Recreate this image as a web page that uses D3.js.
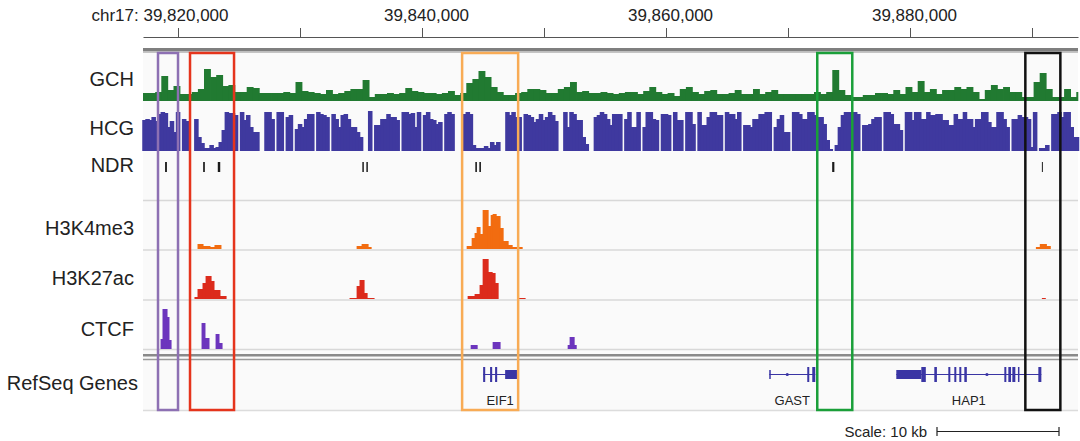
<!DOCTYPE html>
<html>
<head>
<meta charset="utf-8">
<script src="https://cdn.jsdelivr.net/npm/d3@7"></script>
<style>
body { margin: 0; background: #ffffff; }
svg { display: block; font-family: "Liberation Sans", Arial, sans-serif; }
</style>
</head>
<body>
<div id="canvas"></div>
<script>
"use strict"

// region on chr17 that is shown
let regionStart = 39817130;
let regionEnd = 39893770;

let tickPositions = [39820000, 39830000, 39840000, 39850000, 39860000, 39870000, 39880000, 39890000];
let labelledTicks = [39820000, 39840000, 39860000, 39880000];

let trackNames = ["GCH", "HCG", "NDR", "H3K4me3", "H3K27ac", "CTCF", "RefSeq Genes"];

// GCH signal, 500 bp bins from regionStart
let gchBinSize = 500;
let gchValues = [
    8, 8, 9, 25, 11, 15, 7, 7, 9, 12,
    32, 24, 26, 15, 16, 9, 9, 14, 13, 8,
    8, 8, 8, 9, 8, 19, 10, 9, 8, 7,
    11, 7, 8, 10, 12, 12, 21, 4, 7, 7,
    8, 7, 8, 13, 10, 9, 8, 8, 7, 8,
    10, 6, 8, 18, 22, 30, 24, 14, 9, 6,
    6, 8, 9, 12, 12, 11, 8, 8, 12, 14,
    19, 9, 10, 8, 8, 9, 8, 7, 8, 9,
    9, 7, 10, 14, 9, 7, 8, 5, 12, 14,
    9, 7, 10, 11, 7, 7, 8, 11, 7, 7,
    12, 7, 9, 11, 7, 7, 7, 7, 7, 7,
    9, 7, 9, 31, 11, 6, 4, 4, 6, 6,
    8, 8, 7, 11, 7, 14, 9, 20, 9, 12,
    7, 11, 11, 14, 12, 14, 9, 2, 11, 16,
    12, 14, 9, 9, 4, 4, 19, 28, 12, 4,
    4, 12, 4, 9
];

// HCG signal, 250 bp bins from regionStart (0 = no data)
let hcgBinSize = 250;
let hcgValues = [
    31, 32, 31, 34, 30, 37, 39, 38, 24, 30,
    19, 39, 0, 32, 30, 0, 0, 32, 14, 8,
    3, 3, 6, 3, 4, 9, 21, 39, 38, 38,
    36, 0, 39, 31, 36, 24, 19, 19, 0, 0,
    39, 39, 32, 0, 39, 39, 0, 34, 36, 0,
    22, 27, 24, 32, 37, 37, 0, 39, 37, 36,
    34, 0, 37, 32, 24, 36, 37, 32, 24, 24,
    19, 14, 0, 0, 40, 0, 26, 26, 32, 32,
    37, 34, 34, 31, 0, 39, 39, 37, 38, 24,
    39, 0, 36, 39, 32, 31, 27, 29, 0, 37,
    39, 37, 0, 0, 0, 37, 39, 37, 6, 3,
    3, 3, 5, 3, 9, 6, 9, 0, 0, 39,
    36, 39, 34, 34, 0, 37, 36, 34, 29, 32,
    37, 31, 34, 39, 36, 30, 0, 0, 39, 24,
    39, 37, 31, 31, 14, 7, 0, 0, 34, 36,
    39, 37, 32, 26, 37, 37, 37, 0, 32, 39,
    24, 24, 39, 0, 24, 39, 39, 32, 31, 0,
    37, 37, 36, 0, 39, 31, 31, 0, 39, 39,
    27, 0, 39, 26, 26, 34, 39, 39, 36, 36,
    0, 39, 37, 37, 32, 39, 0, 26, 26, 24,
    32, 32, 37, 37, 39, 39, 0, 24, 32, 36,
    19, 19, 0, 39, 39, 37, 32, 32, 39, 39,
    36, 34, 34, 27, 11, 2, 0, 6, 24, 36,
    39, 39, 39, 39, 37, 0, 26, 26, 27, 32,
    34, 34, 0, 39, 39, 37, 27, 27, 21, 0,
    39, 39, 31, 39, 39, 32, 32, 39, 36, 36,
    37, 37, 31, 31, 26, 26, 37, 32, 32, 39,
    32, 32, 24, 32, 32, 39, 39, 29, 24, 24,
    39, 39, 32, 24, 0, 32, 32, 36, 34, 34,
    32, 4, 39, 0, 3, 3, 6, 0, 37, 37,
    39, 34, 39, 39, 24, 14, 14
];

// nucleosome depleted regions [start, end]
let ndrRegions = [
    [39818940, 39819090],
    [39822060, 39822200],
    [39823260, 39823460],
    [39835110, 39835230],
    [39835440, 39835560],
    [39844370, 39844500],
    [39844700, 39844830],
    [39873620, 39873800],
    [39890810, 39890890]
];

// peak tracks [start, end, value]
let h3k4me3Peaks = [
    [39821640, 39822050, 5], [39822050, 39822620, 3], [39822620, 39823030, 2], [39823030, 39823520, 4],
    [39834680, 39835090, 3], [39835090, 39835580, 5], [39835580, 39835830, 2],
    [39843700, 39844110, 3], [39844110, 39844350, 11], [39844350, 39844520, 16], [39844520, 39844760, 22],
    [39844760, 39845010, 15], [39845010, 39845420, 39], [39845420, 39845670, 23], [39845670, 39845830, 34],
    [39845830, 39846080, 35], [39846080, 39846400, 33], [39846400, 39846650, 21], [39846650, 39847060, 8],
    [39847060, 39847390, 4], [39847390, 39848210, 2],
    [39890360, 39890680, 2], [39890680, 39891180, 5], [39891180, 39891500, 3]
];
let h3k27acPeaks = [
    [39821390, 39821640, 2], [39821640, 39822050, 10], [39822050, 39822300, 16], [39822300, 39822710, 23],
    [39822710, 39822950, 18], [39822950, 39823440, 9], [39823440, 39823940, 3],
    [39834100, 39834680, 1], [39834680, 39834920, 13], [39834920, 39835250, 19], [39835250, 39835500, 6],
    [39835500, 39836070, 1],
    [39843780, 39844350, 3], [39844350, 39844760, 5], [39844760, 39845010, 14], [39845010, 39845420, 40],
    [39845420, 39845750, 27], [39845750, 39845990, 26], [39845990, 39846240, 16],
    [39847880, 39848450, 1],
    [39890850, 39891090, 1]
];
let ctcfPeaks = [
    [39818610, 39818770, 10], [39818770, 39819100, 40], [39819100, 39819260, 32], [39819260, 39819430, 9],
    [39821970, 39822210, 26], [39822210, 39822540, 11], [39823120, 39823360, 15], [39823360, 39823610, 6],
    [39844030, 39844520, 4], [39845830, 39846400, 7],
    [39851980, 39852140, 4], [39852140, 39852470, 12], [39852470, 39852640, 4]
];

// RefSeq genes
let geneNames = ["EIF1", "GAST", "HAP1"];
let geneStarts = [39845010, 39868462, 39878876];
let geneEnds = [39847798, 39872234, 39890766];
let geneExons = [
    [[39845010, 39845180, "cds"], [39845580, 39845750, "cds"], [39845990, 39846160, "cds"], [39846814, 39847798, "utr"]],
    [[39868462, 39868580, "utr"], [39871578, 39871742, "cds"], [39871988, 39872234, "cds"]],
    [[39878876, 39880926, "utr"], [39880926, 39881295, "cds"], [39881992, 39882205, "cds"], [39883140, 39883304, "cds"],
     [39883632, 39883796, "cds"], [39884042, 39884206, "cds"], [39884452, 39884657, "cds"], [39887732, 39887896, "cds"],
     [39888060, 39888281, "cds"], [39888388, 39888634, "cds"], [39888847, 39888962, "cds"], [39890520, 39890766, "cds"]]
];
let geneMarks = [[], [39869938], [39886305]];

// highlighted regions
let boxStarts = [39818360, 39820984, 39843288, 39872398, 39889454];
let boxEnds = [39820000, 39824592, 39847880, 39875268, 39892324];
let boxColours = ["#8d70b3", "#e5341c", "#f8ab55", "#1a9f39", "#111111"];

let scaleBarLength = 10000;

let width = 1080;
let height = 441;

let svg = d3.select("#canvas")
    .append("svg")
    .attr("width", width)
    .attr("height", height);

let x = d3.scaleLinear()
    .domain([regionStart, regionEnd])
    .range([143, 1078]);

// data area background
svg.append("rect")
    .attr("x", 143)
    .attr("y", 53)
    .attr("width", 935)
    .attr("height", 358)
    .attr("fill", "#fafafa");

/* ruler */
let axis = d3.axisTop(x)
    .tickValues(tickPositions)
    .tickSize(9)
    .tickSizeOuter(0)
    .tickPadding(7)
    .tickFormat(d => labelledTicks.includes(d) ? d3.format(",")(d) : "");

let axisG = svg.append("g")
    .attr("transform", "translate(0,37)")
    .call(axis)
    .attr("font-family", null)
    .attr("font-size", 17);
axisG.select(".domain").attr("stroke", "#555");
axisG.selectAll(".tick line").attr("stroke", "#555");
axisG.selectAll(".tick text")
    .attr("fill", "#222")
    .attr("dx", 4);
axisG.selectAll(".tick text")
    .filter(d => d === labelledTicks[0])
    .text(d => "chr17: " + d3.format(",")(d))
    .attr("text-anchor", "end")
    .attr("dx", 50);

svg.append("rect")
    .attr("x", 143).attr("y", 48)
    .attr("width", 935).attr("height", 3.5)
    .attr("fill", "#7f7f7f");
svg.append("line")
    .attr("x1", 143).attr("x2", 1078)
    .attr("y1", 52.5).attr("y2", 52.5)
    .attr("stroke", "#c4c4c4");

/* separators */
[200.5, 250, 300, 349.5].forEach(yy => {
    svg.append("line")
        .attr("x1", 143).attr("x2", 1078)
        .attr("y1", yy).attr("y2", yy)
        .attr("stroke", "#d8d8d8")
        .attr("stroke-width", 1.5);
});
svg.append("rect")
    .attr("x", 143).attr("y", 354)
    .attr("width", 935).attr("height", 2.5)
    .attr("fill", "#8a8a8a");
svg.append("line")
    .attr("x1", 143).attr("x2", 1078)
    .attr("y1", 359.5).attr("y2", 359.5)
    .attr("stroke", "#9a9a9a")
    .attr("stroke-width", 1.5);
svg.append("line")
    .attr("x1", 143).attr("x2", 1078)
    .attr("y1", 410.5).attr("y2", 410.5)
    .attr("stroke", "#dcdcdc")
    .attr("stroke-width", 1.5);

/* GCH track */
let gchY = d3.scaleLinear().domain([0, 48]).range([101, 53]);
svg.append("g")
    .selectAll("rect")
    .data(gchValues)
    .join("rect")
    .attr("x", (d, i) => x(regionStart + i * gchBinSize))
    .attr("width", (d, i) => Math.min(x(regionStart + (i + 1) * gchBinSize), 1077.5) - x(regionStart + i * gchBinSize) + 0.8)
    .attr("y", d => gchY(d))
    .attr("height", d => gchY(0) - gchY(d))
    .attr("fill", "#217a31");

/* HCG track */
let hcgY = d3.scaleLinear().domain([0, 40]).range([151, 111]);
svg.append("g")
    .selectAll("rect")
    .data(hcgValues.map((v, i) => ({v: v, i: i})).filter(d => d.v > 0))
    .join("rect")
    .attr("x", d => x(regionStart + d.i * hcgBinSize) - 0.75)
    .attr("width", d => Math.min(x(regionStart + (d.i + 1) * hcgBinSize), 1078.5) - x(regionStart + d.i * hcgBinSize) + 1.5)
    .attr("y", d => hcgY(d.v))
    .attr("height", d => hcgY(0) - hcgY(d.v))
    .attr("fill", "#3f399f");

/* NDR marks */
svg.append("g")
    .selectAll("rect")
    .data(ndrRegions)
    .join("rect")
    .attr("x", d => x(d[0]))
    .attr("width", d => x(d[1]) - x(d[0]))
    .attr("y", 162)
    .attr("height", 10)
    .attr("fill", "#1a1a1a");

/* ChIP tracks */
function peakTrack(peaks, baseline, colour) {
    let y = d3.scaleLinear().domain([0, 48]).range([baseline, baseline - 48]);
    svg.append("g")
        .selectAll("rect")
        .data(peaks)
        .join("rect")
        .attr("x", d => x(d[0]) - 0.5)
        .attr("width", d => x(d[1]) - x(d[0]) + 1)
        .attr("y", d => y(d[2]))
        .attr("height", d => y(0) - y(d[2]))
        .attr("fill", colour);
}
peakTrack(h3k4me3Peaks, 249, "#f26c10");
peakTrack(h3k27acPeaks, 299, "#dc2b1c");
peakTrack(ctcfPeaks, 349, "#6c35bd");

/* genes */
let geneColour = "#3a35a4";
let genes = svg.append("g");
geneNames.forEach((name, gi) => {
    genes.append("line")
        .attr("x1", x(geneStarts[gi]))
        .attr("x2", x(geneEnds[gi]))
        .attr("y1", 374.5).attr("y2", 374.5)
        .attr("stroke", geneColour)
        .attr("stroke-width", 1.2);
    genes.selectAll(null)
        .data(geneExons[gi])
        .join("rect")
        .attr("x", d => x(d[0]))
        .attr("width", d => Math.max(x(d[1]) - x(d[0]), 1.5))
        .attr("y", d => d[2] === "cds" ? 367 : 370)
        .attr("height", d => d[2] === "cds" ? 15 : 9)
        .attr("fill", geneColour);
    genes.selectAll(null)
        .data(geneMarks[gi])
        .join("circle")
        .attr("cx", d => x(d))
        .attr("cy", 374.5)
        .attr("r", 1.6)
        .attr("fill", geneColour);
    genes.append("text")
        .attr("x", x((geneStarts[gi] + geneEnds[gi]) / 2))
        .attr("y", 405)
        .attr("text-anchor", "middle")
        .attr("font-size", 13)
        .attr("fill", "#222")
        .text(name);
});

/* track labels */
let labelBaselines = [86, 135, 172, 235, 285, 336, 390];
svg.append("g")
    .selectAll("text")
    .data(trackNames)
    .join("text")
    .attr("x", (d, i) => i === 6 ? 138 : 134)
    .attr("y", (d, i) => labelBaselines[i])
    .attr("text-anchor", "end")
    .attr("font-size", 20)
    .attr("fill", "#222")
    .text(d => d);

/* highlight boxes */
svg.append("g")
    .selectAll("rect")
    .data(boxStarts)
    .join("rect")
    .attr("x", d => x(d))
    .attr("y", 53)
    .attr("width", (d, i) => x(boxEnds[i]) - x(d))
    .attr("height", 357)
    .attr("fill", "none")
    .attr("stroke", (d, i) => boxColours[i])
    .attr("stroke-width", 2.5);

/* scale bar */
let barRight = 1059;
let barLeft = barRight - (x(regionStart + scaleBarLength) - x(regionStart));
svg.append("line")
    .attr("x1", barLeft).attr("x2", barRight)
    .attr("y1", 431.5).attr("y2", 431.5)
    .attr("stroke", "#222").attr("stroke-width", 1.2);
[barLeft, barRight].forEach(bx => {
    svg.append("line")
        .attr("x1", bx).attr("x2", bx)
        .attr("y1", 427).attr("y2", 436)
        .attr("stroke", "#222").attr("stroke-width", 1.2);
});
svg.append("text")
    .attr("x", barLeft - 10)
    .attr("y", 437)
    .attr("text-anchor", "end")
    .attr("font-size", 15)
    .attr("fill", "#222")
    .text("Scale: " + (scaleBarLength / 1000) + " kb");
</script>
</body>
</html>
